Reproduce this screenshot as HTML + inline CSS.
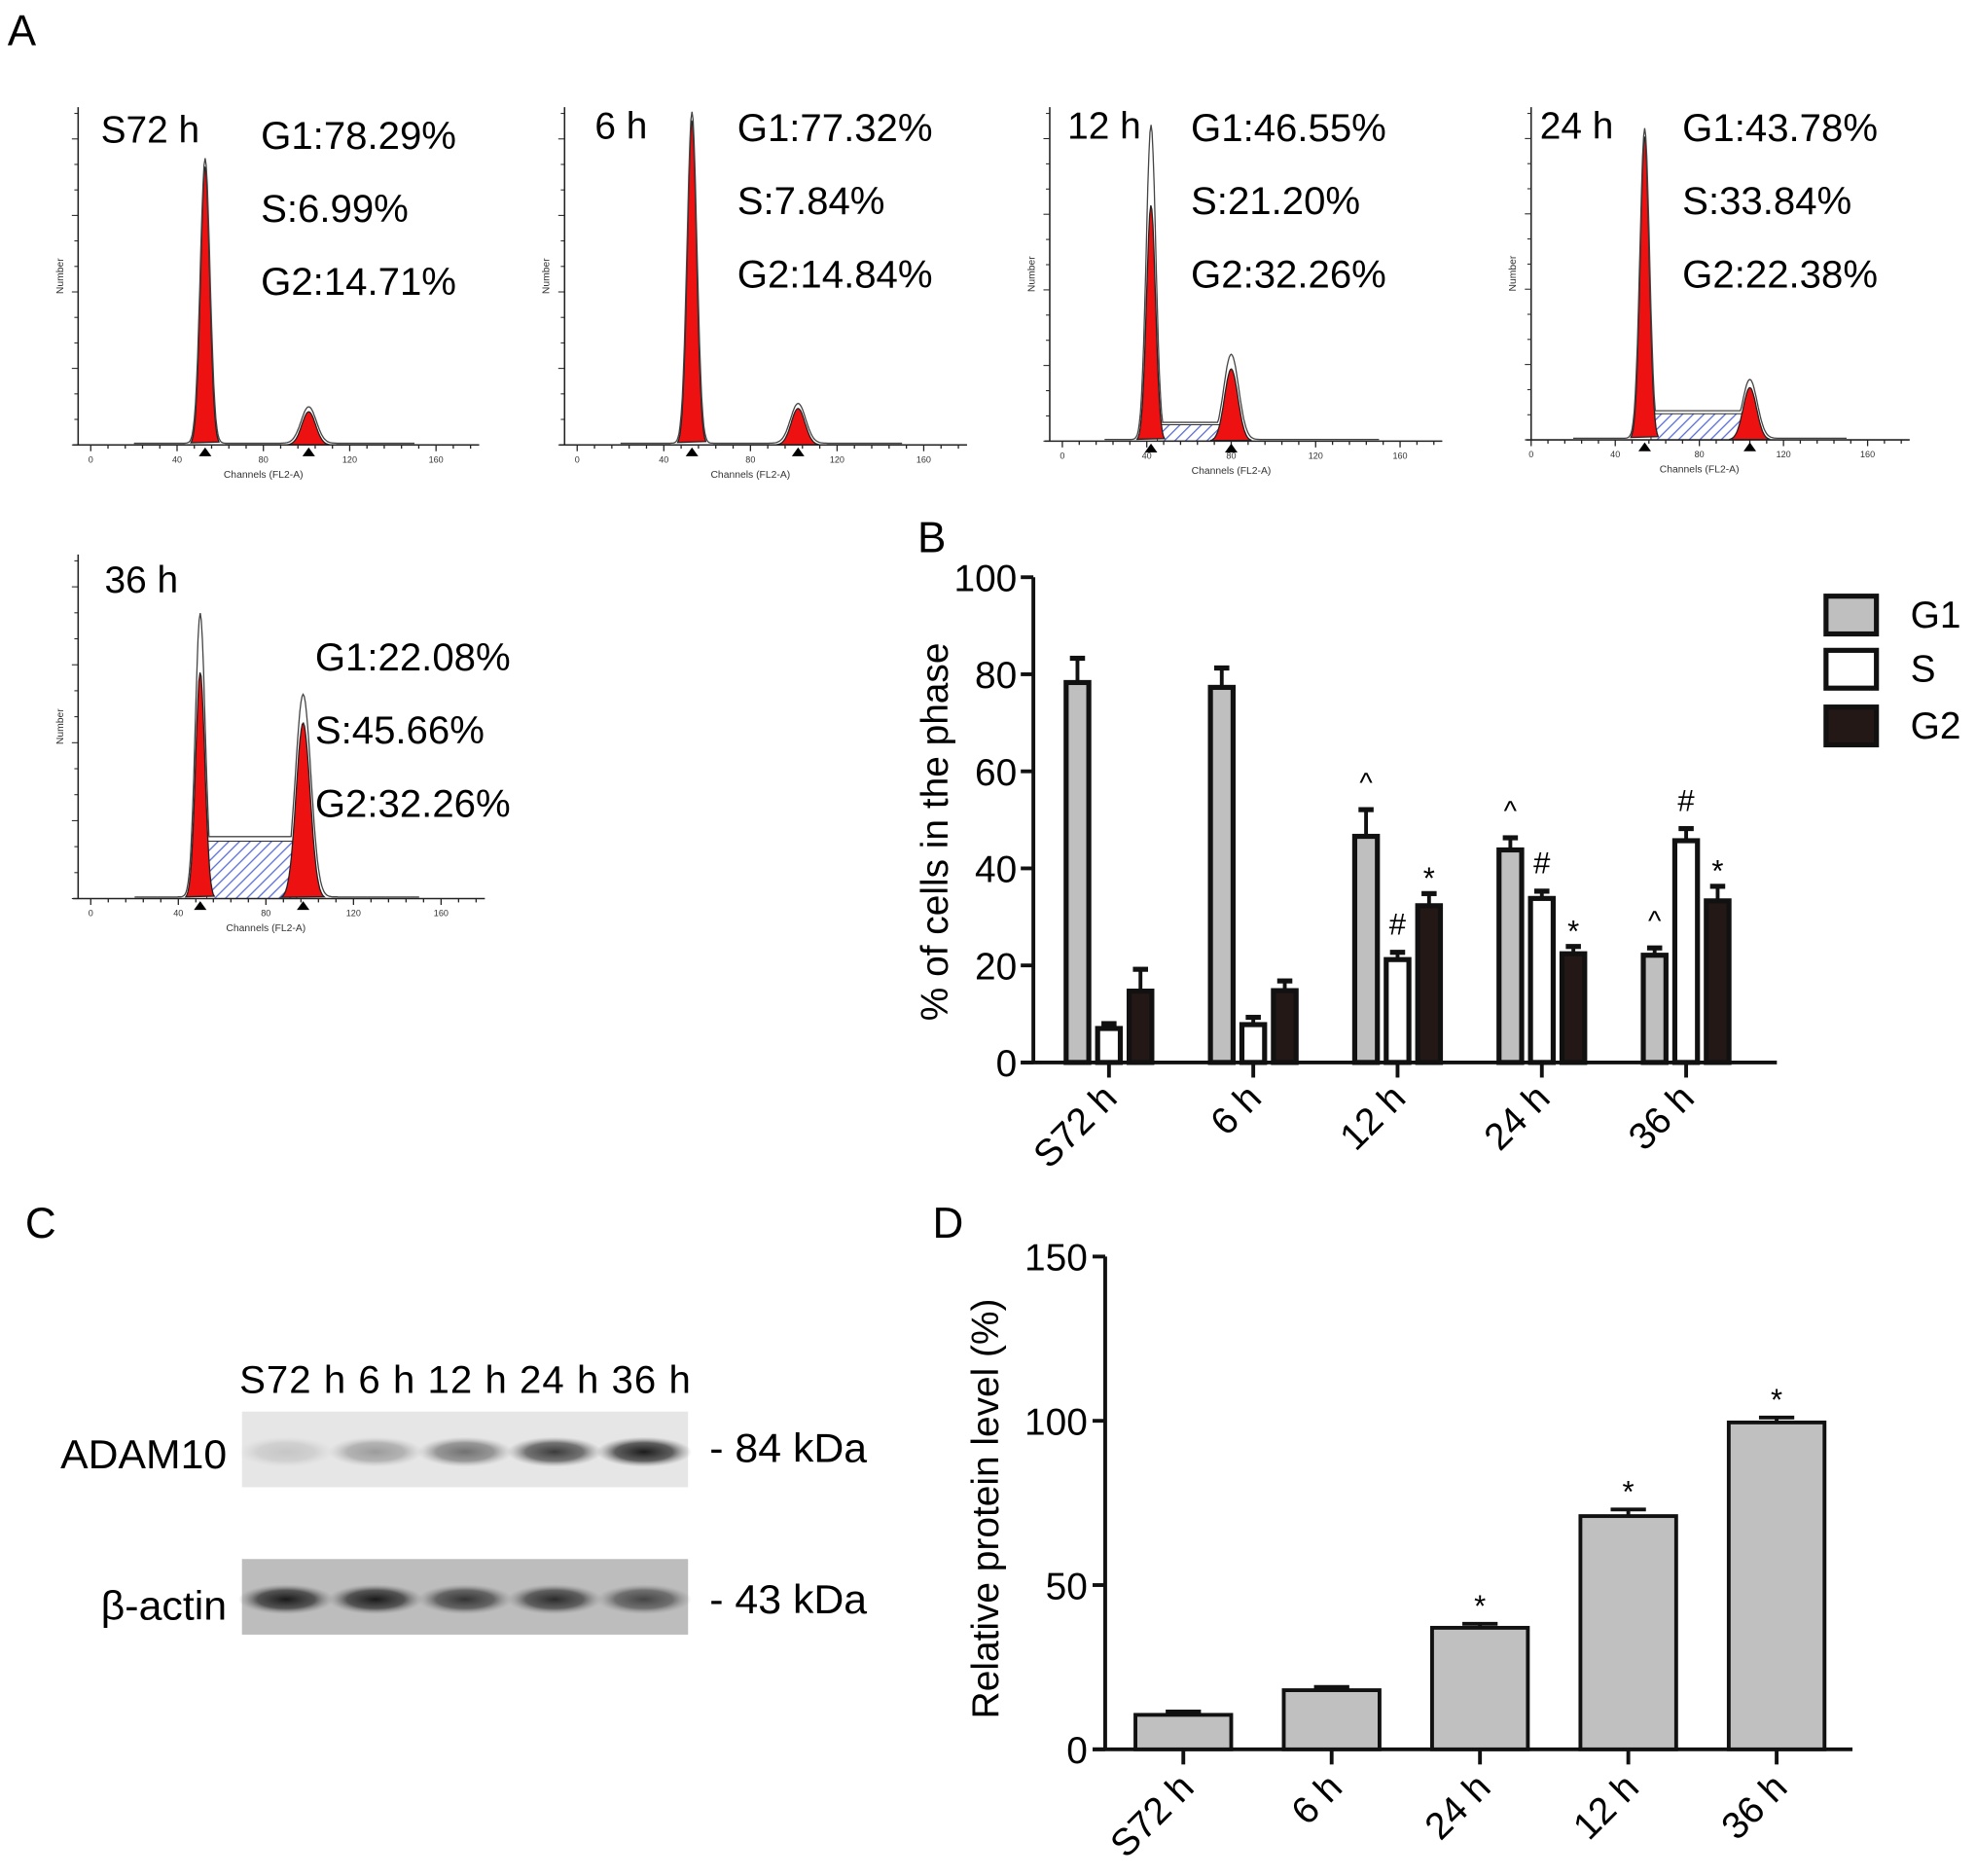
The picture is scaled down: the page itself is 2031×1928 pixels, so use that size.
<!DOCTYPE html>
<html><head><meta charset="utf-8"><style>
html,body{margin:0;padding:0;background:#fff}
svg{display:block;font-family:"Liberation Sans",Arial,sans-serif}
</style></head><body>
<svg id="fig" width="2031" height="1928" viewBox="0 0 1568 1488.5" xmlns="http://www.w3.org/2000/svg">
<defs>
<pattern id="hatch" width="6" height="6" patternUnits="userSpaceOnUse" patternTransform="rotate(45)"><rect width="6" height="6" fill="#fff"/><line x1="0" y1="0" x2="0" y2="6" stroke="#5b6fd6" stroke-width="2"/></pattern>
<radialGradient id="band"><stop offset="0" stop-color="#111"/><stop offset="0.6" stop-color="#333" stop-opacity="0.8"/><stop offset="1" stop-color="#888" stop-opacity="0"/></radialGradient>
</defs>
<text x="6" y="36" font-size="34">A</text>
<text x="728" y="438" font-size="34">B</text>
<text x="20" y="982" font-size="34">C</text>
<text x="740" y="982" font-size="34">D</text>
<g id="hist"></g>
<g id="chartB"></g>
<g id="blot"></g>
<g id="chartD"></g>
</svg>
<script>
const NS="http://www.w3.org/2000/svg";
function mk(parent,tag,attrs,text){const e=document.createElementNS(NS,tag);for(const k in attrs)e.setAttribute(k,attrs[k]);if(text!==undefined)e.textContent=text;parent.appendChild(e);return e;}

// ---------- Panel A histograms ----------
const histNames=["S72 h","6 h","12 h","24 h","36 h"];
const histG1=["G1:78.29%","G1:77.32%","G1:46.55%","G1:43.78%","G1:22.08%"];
const histS=["S:6.99%","S:7.84%","S:21.20%","S:33.84%","S:45.66%"];
const histG2=["G2:14.71%","G2:14.84%","G2:32.26%","G2:22.38%","G2:32.26%"];
const peakG1Ch=[53,53,42,54,50];
const peakG2Ch=[101,102,80,104,97];
const peakG1H=[0.84,0.98,0.72,0.93,0.67];
const peakG2H=[0.1,0.11,0.22,0.16,0.52];
const outG1H=[0.86,1.0,0.96,0.95,0.84];
const outG2H=[0.11,0.12,0.26,0.18,0.6];
const sLevel=[0,0,0.05,0.08,0.17];
const histTicks=[0,40,80,120,160];
const H=document.getElementById('hist');
const layouts=[
 {ax:62,x0:72,x160:346,base:353,top:85,tx:80,ty:113,lx:207,ly:118,ls:58},
 {ax:448,x0:458,x160:733,base:353,top:85,tx:472,ty:110,lx:585,ly:112,ls:58},
 {ax:833,x0:843,x160:1111,base:350,top:85,tx:847,ty:110,lx:945,ly:112,ls:58},
 {ax:1215,x0:1215,x160:1482,base:349,top:85,tx:1222,ty:110,lx:1335,ly:112,ls:58},
 {ax:62,x0:72,x160:350,base:713,top:440,tx:83,ty:470,lx:250,ly:532,ls:58}
];
layouts.forEach((L,i)=>{
  const g=mk(H,'g',{});
  
  
  const sx=c=>L.x0+(L.x160-L.x0)*c/160;
  const h=L.base-L.top-5;
  const gauss=(c,ch,w,a)=>a*Math.exp(-Math.pow((c-ch)/w,2));
  if(sLevel[i]>0){
    const p=mk(g,'rect',{x:sx(peakG1Ch[i]+3),y:L.base-sLevel[i]*h,width:sx(peakG2Ch[i]-3)-sx(peakG1Ch[i]+3),height:sLevel[i]*h,fill:'url(#hatch)',stroke:'#333','stroke-width':0.8});
    
  }
  [[peakG1Ch[i],peakG1H[i],3],[peakG2Ch[i],peakG2H[i],4.5]].forEach((pk,k)=>{
    let d='';for(let c=pk[0]-pk[2]*2.2;c<=pk[0]+pk[2]*2.2;c+=0.5){const y=L.base-gauss(c,pk[0],pk[2],pk[1])*h;d+=(d?'L':'M')+sx(c).toFixed(1)+','+y.toFixed(1);}
    d+='Z';
    const p=mk(g,'path',{d:d,fill:'#ee1111',stroke:'#222','stroke-width':1});
    
  });
  let d='';for(let c=20;c<=150;c+=0.5){
    const plateau=(c>peakG1Ch[i]&&c<peakG2Ch[i])?sLevel[i]*1.05:0;
    let v=Math.max(gauss(c,peakG1Ch[i],3.2,outG1H[i]),gauss(c,peakG2Ch[i],5,outG2H[i]),plateau)+0.005;
    const y=L.base-v*h;d+=(d?'L':'M')+sx(c).toFixed(1)+','+y.toFixed(1);}
  const o=mk(g,'path',{d:d,fill:'none',stroke:'#444','stroke-width':1});
  
  mk(g,'line',{x1:L.ax,y1:L.top,x2:L.ax,y2:L.base,stroke:'#222','stroke-width':1.2});
  mk(g,'line',{x1:L.ax-4,y1:L.base,x2:sx(180),y2:L.base,stroke:'#222','stroke-width':1.2});
  for(let c=0;c<=176;c+=8)mk(g,'line',{x1:sx(c),y1:L.base,x2:sx(c),y2:L.base+(c%40==0?5:3),stroke:'#222','stroke-width':1});
  for(let t=0;t<=13;t++){const y=L.base-t*h/13;mk(g,'line',{x1:L.ax-(t%3==0?5:3),y1:y,x2:L.ax,y2:y,stroke:'#222','stroke-width':0.8});}
  histTicks.forEach(t=>mk(g,'text',{x:sx(t),y:L.base+14,'font-size':7,'text-anchor':'middle',fill:'#333'},t));
  mk(g,'text',{x:sx(80),y:L.base+26,'font-size':8,'text-anchor':'middle',fill:'#333'},'Channels (FL2-A)');
  mk(g,'text',{x:L.ax-12,y:(L.base+L.top)/2,'font-size':8,'text-anchor':'middle',fill:'#333',transform:`rotate(-90 ${L.ax-12} ${(L.base+L.top)/2})`},'Number');
  [peakG1Ch[i],peakG2Ch[i]].forEach(c=>mk(g,'path',{d:`M${sx(c)-5},${L.base+9}L${sx(c)+5},${L.base+9}L${sx(c)},${L.base+2}Z`,fill:'#000'}));
  const t1=mk(g,'text',{x:L.tx,y:L.ty,'font-size':30},histNames[i]);
  
  [histG1[i],histS[i],histG2[i]].forEach((s,k)=>{const t=mk(g,'text',{x:L.lx,y:L.ly+k*L.ls,'font-size':31},s);});
});

// ---------- Panel B ----------
const bCats=["S72 h","6 h","12 h","24 h","36 h"];
const bG1=[78.3,77.3,46.6,43.8,22.1];
const bG1Err=[5,4,5.5,2.5,1.5];
const bS=[7,7.8,21.2,33.8,45.7];
const bSErr=[1,1.5,1.5,1.5,2.5];
const bG2=[14.7,14.8,32.3,22.4,33.3];
const bG2Err=[4.5,2,2.5,1.5,3];
const bTicks=[0,20,40,60,80,100];
const bMarksG1=["","","^","^","^"];
const bMarksS=["","","#","#","#"];
const bMarksG2=["","","*","*","*"];
(function(){
  const G=document.getElementById('chartB');
  const y0=843,y100=458,ax=820,xEnd=1410;
  const yS=v=>y0-(y0-y100)*v/100;
  const gx=i=>880+i*114.5;
  mk(G,'line',{x1:ax,y1:yS(100),x2:ax,y2:y0,stroke:'#111','stroke-width':3});
  mk(G,'line',{x1:ax-10,y1:y0,x2:xEnd,y2:y0,stroke:'#111','stroke-width':3});
  bTicks.forEach(t=>{mk(G,'line',{x1:ax-10,y1:yS(t),x2:ax,y2:yS(t),stroke:'#111','stroke-width':3});
    const tl=mk(G,'text',{x:ax-13,y:yS(t)+11,'font-size':30,'text-anchor':'end'},t);});
  const yt=mk(G,'text',{x:752,y:660,'font-size':30,'text-anchor':'middle',transform:'rotate(-90 752 660)'},'% of cells in the phase');
  
  const series=[[bG1,bG1Err,'#bfbfbf',-25,bMarksG1,'g1'],[bS,bSErr,'#fff',0,bMarksS,'s'],[bG2,bG2Err,'#231815',25,bMarksG2,'g2']];
  bCats.forEach((c,i)=>{
    series.forEach(s=>{
      const cx=gx(i)+s[3],v=s[0][i],e=s[1][i];
      mk(G,'line',{x1:cx,y1:yS(v),x2:cx,y2:yS(v+e),stroke:'#111','stroke-width':3});
      mk(G,'line',{x1:cx-6,y1:yS(v+e),x2:cx+6,y2:yS(v+e),stroke:'#111','stroke-width':4});
      const r=mk(G,'rect',{x:cx-9,y:yS(v),width:18,height:y0-yS(v),fill:s[2],stroke:'#111','stroke-width':4});
      
      if(s[4][i]){const a=mk(G,'text',{x:cx,y:yS(v+e)-(s[4][i]=='*'?4:14),'font-size':s[4][i]=='^'?22:24,'text-anchor':'middle'},s[4][i]);}
    });
    mk(G,'line',{x1:gx(i),y1:y0,x2:gx(i),y2:y0+12,stroke:'#111','stroke-width':3});
    const xl=mk(G,'text',{x:gx(i)+8,y:y0+30,'font-size':30,'text-anchor':'end',transform:`rotate(-45 ${gx(i)+8} ${y0+30})`},c);
    
  });
  const leg=[['G1','#bfbfbf',487],['S','#fff',530],['G2','#231815',575]];
  leg.forEach(l=>{const g=mk(G,'g',{});
    mk(g,'rect',{x:1449,y:l[2]-14,width:40,height:30,fill:l[1],stroke:'#111','stroke-width':4});
    mk(g,'text',{x:1516,y:l[2]+11,'font-size':30},l[0]);});
})();

// ---------- Panel C blot ----------
(function(){
  const G=document.getElementById('blot');
  const adam=[0.15,0.35,0.55,0.8,0.95];
  const actin=[0.95,0.95,0.8,0.85,0.7];
  const hdr=mk(G,'text',{x:190,y:1105,'font-size':31,textLength:358,lengthAdjust:'spacing'},'S72 h 6 h 12 h 24 h 36 h');
  
  [[1120,adam,'adam10'],[1237,actin,'beta-actin']].forEach(b=>{
    const g=mk(G,'g',{});
    mk(g,'rect',{x:192,y:b[0],width:354,height:60,fill:b[2]=='adam10'?'#e6e6e6':'#bdbdbd'});
    b[1].forEach((v,i)=>mk(g,'ellipse',{cx:192+35+i*71,cy:b[0]+32,rx:38,ry:12,fill:'url(#band)',opacity:v}));
  });
  [['ADAM10',48,1165,132],['- 84 kDa',563,1160,125],['β-actin',80,1285,100],['- 43 kDa',563,1280,125]].forEach(t=>{
    const e=mk(G,'text',{x:t[1],y:t[2],'font-size':32,textLength:t[3],lengthAdjust:'spacingAndGlyphs'},t[0]);});
})();

// ---------- Panel D ----------
const dCats=["S72 h","6 h","24 h","12 h","36 h"];
const dVals=[10.5,18,37,71,99.5];
const dErr=[1,1,1.2,2,1.5];
const dMarks=["","","*","*","*"];
const dTicks=[0,50,100,150];
(function(){
  const G=document.getElementById('chartD');
  const y0=1388,y150=997,ax=877,xEnd=1470;
  const yS=v=>y0-(y0-y150)*v/150;
  const cx=i=>939+i*117.7;
  mk(G,'line',{x1:ax,y1:y150,x2:ax,y2:y0,stroke:'#111','stroke-width':3});
  mk(G,'line',{x1:ax-10,y1:y0,x2:xEnd,y2:y0,stroke:'#111','stroke-width':3});
  dTicks.forEach(t=>{mk(G,'line',{x1:ax-10,y1:yS(t),x2:ax,y2:yS(t),stroke:'#111','stroke-width':3});
    const tl=mk(G,'text',{x:ax-14,y:yS(t)+11,'font-size':30,'text-anchor':'end'},t);});
  const yt=mk(G,'text',{x:792,y:1197,'font-size':30,'text-anchor':'middle',transform:'rotate(-90 792 1197)'},'Relative protein level (%)');
  
  dCats.forEach((c,i)=>{
    const x=cx(i),v=dVals[i],e=dErr[i];
    mk(G,'line',{x1:x-14,y1:yS(v+e),x2:x+14,y2:yS(v+e),stroke:'#111','stroke-width':3});
    mk(G,'line',{x1:x,y1:yS(v),x2:x,y2:yS(v+e),stroke:'#111','stroke-width':3});
    const r=mk(G,'rect',{x:x-38,y:yS(v),width:76,height:y0-yS(v),fill:'#c0c0c0',stroke:'#111','stroke-width':3});
    
    if(dMarks[i]){const a=mk(G,'text',{x:x,y:yS(v+e)-6,'font-size':24,'text-anchor':'middle'},dMarks[i]);}
    mk(G,'line',{x1:x,y1:y0,x2:x,y2:y0+12,stroke:'#111','stroke-width':3});
    const xl=mk(G,'text',{x:x+10,y:y0+32,'font-size':30,'text-anchor':'end',transform:`rotate(-45 ${x+10} ${y0+32})`},c);
    
  });
})();
</script>
</body></html>
